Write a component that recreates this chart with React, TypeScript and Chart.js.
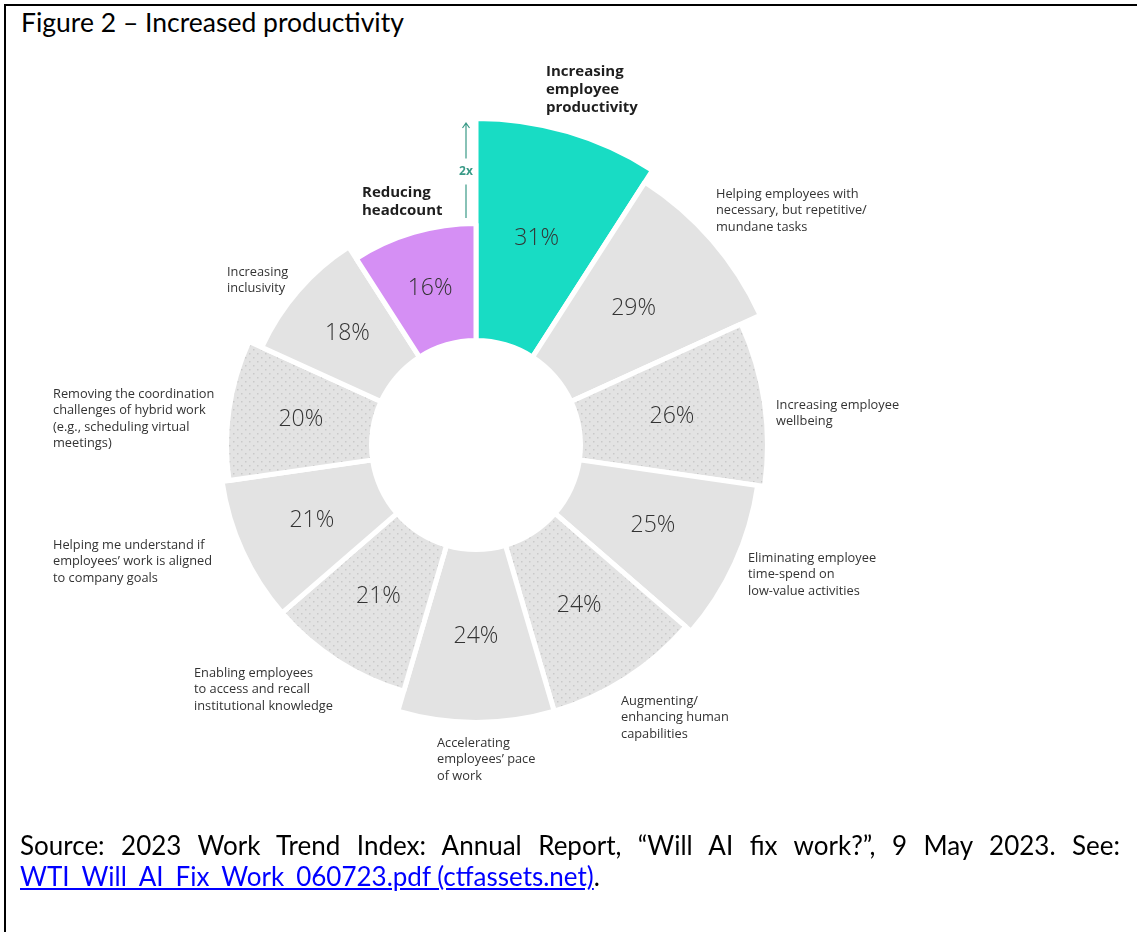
import React, { useEffect, useRef } from "react";
import { Chart, registerables } from "chart.js";

Chart.register(...registerables);

// ---------- data ----------
const CATEGORIES: string[][] = [
  ["Increasing", "employee", "productivity"],
  ["Helping employees with", "necessary, but repetitive/", "mundane tasks"],
  ["Increasing employee", "wellbeing"],
  ["Eliminating employee", "time-spend on", "low-value activities"],
  ["Augmenting/", "enhancing human", "capabilities"],
  ["Accelerating", "employees\u2019 pace", "of work"],
  ["Enabling employees", "to access and recall", "institutional knowledge"],
  ["Helping me understand if", "employees\u2019 work is aligned", "to company goals"],
  ["Removing the coordination", "challenges of hybrid work", "(e.g., scheduling virtual", "meetings)"],
  ["Increasing", "inclusivity"],
  ["Reducing", "headcount"],
];
const VALUES: number[] = [31, 29, 26, 25, 24, 24, 21, 21, 20, 18, 16];
const RATIO_LABEL = "2x";
const TITLE = "Figure 2 \u2013 Increased productivity";
const SOURCE_LINE = "Source: 2023 Work Trend Index: Annual Report, \u201cWill AI fix work?\u201d, 9 May 2023. See:";
const SOURCE_LINK = "WTI_Will_AI_Fix_Work_060723.pdf (ctfassets.net)";

// ---------- styles / layout ----------
const FILL_KIND = ["teal", "plain", "dotted", "plain", "dotted", "plain", "dotted", "plain", "dotted", "plain", "purple"];
const TEAL = "#18dcc4";
const PURPLE = "#d58ff4";
const GRAY = "#e3e3e3";
const DOT = "#c9c9c9";
const ARROW_COLOR = "#3a9a87";
const W = 1137;
const H = 932;
const CX = 476;
const CY = 445;
const AREA = 330; // radial drawing area
const R_MIN = -15.643;
const R_MAX = 31.5;
const HOLE = 104.5;
const GAP = 5;

// label block positions (left, first-line centre y, bold)
const LABEL_LAYOUT = [
  { x: 546, y: 70, bold: true },
  { x: 716, y: 193, bold: false },
  { x: 776, y: 404, bold: false },
  { x: 748, y: 557, bold: false },
  { x: 621, y: 700, bold: false },
  { x: 437, y: 742, bold: false },
  { x: 194, y: 672, bold: false },
  { x: 53, y: 544, bold: false },
  { x: 53, y: 393, bold: false },
  { x: 227, y: 271, bold: false },
  { x: 362, y: 191, bold: true },
];

function makeDots(): CanvasPattern | string {
  const c = document.createElement("canvas");
  c.width = 8;
  c.height = 8;
  const g = c.getContext("2d");
  if (!g) return GRAY;
  g.fillStyle = GRAY;
  g.fillRect(0, 0, 8, 8);
  g.fillStyle = DOT;
  g.fillRect(1, 1, 1.5, 1.5);
  g.fillRect(5, 5, 1.5, 1.5);
  return g.createPattern(c, "repeat") || GRAY;
}

const holePlugin = {
  id: "holePlugin",
  afterDatasetsUpdate(chart: any) {
    const meta = chart.getDatasetMeta(0);
    meta.data.forEach((el: any) => {
      el.innerRadius = HOLE;
    });
  },
  afterDatasetsDraw(chart: any) {
    const ctx = chart.ctx;
    const meta = chart.getDatasetMeta(0);
    const scale = chart.scales.r;
    ctx.save();
    ctx.fillStyle = "#333333";
    ctx.font = "300 23px 'Open Sans', 'Noto Sans', sans-serif";
    ctx.textAlign = "center";
    ctx.textBaseline = "middle";
    meta.data.forEach((el: any, i: number) => {
      const p = el.tooltipPosition();
      ctx.fillText(VALUES[i] + "%", p.x, p.y);
    });
    // 2x arrow between the top of the smallest and the largest slice
    const ax = scale.xCenter - 10;
    const yTop = scale.yCenter - (scale.getDistanceFromCenterForValue(VALUES[0]) - GAP / 2) + 2;
    const yBot = scale.yCenter - (scale.getDistanceFromCenterForValue(VALUES[VALUES.length - 1]) - GAP / 2) - 8;
    const yMid = (yTop + yBot) / 2;
    ctx.strokeStyle = ARROW_COLOR;
    ctx.lineWidth = 1.2;
    ctx.beginPath();
    ctx.moveTo(ax, yTop);
    ctx.lineTo(ax, yMid - 12);
    ctx.moveTo(ax, yMid + 14);
    ctx.lineTo(ax, yBot);
    ctx.moveTo(ax - 3.5, yTop + 5);
    ctx.lineTo(ax, yTop);
    ctx.lineTo(ax + 3.5, yTop + 5);
    ctx.stroke();
    ctx.fillStyle = ARROW_COLOR;
    ctx.font = "bold 12px 'Open Sans', 'Noto Sans', sans-serif";
    ctx.fillText(RATIO_LABEL, ax, yMid + 1);
    ctx.restore();
  },
};

export default function App() {
  const ref = useRef<HTMLCanvasElement | null>(null);

  useEffect(() => {
    const canvas = ref.current;
    if (!canvas) return;
    const dots = makeDots();
    const colors = FILL_KIND.map((k) => (k === "teal" ? TEAL : k === "purple" ? PURPLE : k === "dotted" ? dots : GRAY));
    const chart = new Chart(canvas, {
      type: "polarArea",
      data: {
        labels: CATEGORIES.map((c) => c.join(" ")),
        datasets: [
          {
            data: VALUES,
            backgroundColor: colors as any,
            borderColor: "#ffffff",
            borderWidth: GAP,
          },
        ],
      },
      options: {
        responsive: false,
        animation: false,
        layout: {
          padding: {
            left: CX - AREA,
            right: W - (CX + AREA),
            top: CY - AREA,
            bottom: H - (CY + AREA),
          },
        },
        scales: {
          r: {
            display: false,
            min: R_MIN,
            max: R_MAX,
            startAngle: 0,
          },
        },
        plugins: {
          legend: { display: false },
          tooltip: { enabled: false },
        },
      },
      plugins: [holePlugin],
    });
    return () => chart.destroy();
  }, []);

  const labelFont = "'Open Sans', 'Noto Sans', sans-serif";

  return (
    <div
      style={{
        position: "fixed",
        left: 0,
        top: 0,
        width: W,
        height: H,
        background: "#ffffff",
        overflow: "hidden",
      }}
    >
      <div
        style={{
          position: "absolute",
          left: 4,
          top: 4,
          width: W + 100,
          height: H + 100,
          border: "2px solid #000",
        }}
      />
      <div
        style={{
          position: "absolute",
          left: 21,
          top: 6,
          fontFamily: "Lato, 'Liberation Sans', sans-serif",
          fontSize: 26.5,
          lineHeight: "32px",
          color: "#000",
          whiteSpace: "nowrap",
        }}
      >
        {TITLE}
      </div>
      <canvas ref={ref} width={W} height={H} style={{ position: "absolute", left: 0, top: 0, width: W, height: H }} />
      {CATEGORIES.map((lines, i) => {
        const L = LABEL_LAYOUT[i];
        const lh = L.bold ? 18 : 16.5;
        return (
          <div
            key={i}
            style={{
              position: "absolute",
              left: L.x,
              top: L.y - lh / 2,
              fontFamily: labelFont,
              fontSize: L.bold ? 15 : 12.8,
              fontWeight: L.bold ? 700 : 400,
              lineHeight: lh + "px",
              color: L.bold ? "#1e1e1e" : "#333333",
              whiteSpace: "nowrap",
            }}
          >
            {lines.map((t, j) => (
              <div key={j}>{t}</div>
            ))}
          </div>
        );
      })}
      <div
        style={{
          position: "absolute",
          left: 20,
          top: 830,
          width: 1100,
          fontFamily: "Lato, 'Liberation Sans', sans-serif",
          fontSize: 26,
          lineHeight: "31px",
          color: "#000",
        }}
      >
        <div style={{ textAlign: "justify", textAlignLast: "justify" as any, whiteSpace: "normal" }}>{SOURCE_LINE}</div>
        <div>
          <span style={{ color: "#0000ff", textDecoration: "underline" }}>{SOURCE_LINK}</span>.
        </div>
      </div>
    </div>
  );
}
